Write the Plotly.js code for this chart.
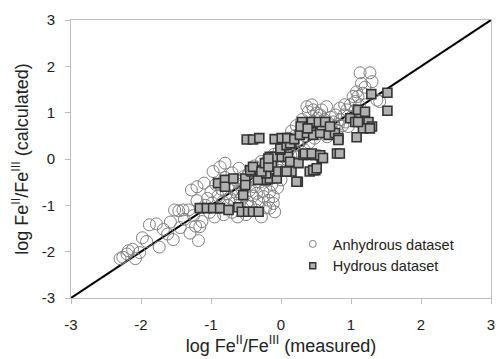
<!DOCTYPE html>
<html>
<head>
<meta charset="utf-8">
<script src="https://cdn.plot.ly/plotly-3.0.1.min.js"></script>
<style>html,body{margin:0;padding:0;background:#fff;}#chart{width:499px;height:359px;}</style>
</head>
<body>
<div id="chart"></div>
<script>
// Anhydrous dataset (open circles)
var anhydrousX = [
-2.30,-2.26,-2.20,-2.18,-2.12,-2.08,-2.02,-1.98,-1.92,-1.88,-1.78,-1.74,-1.68,-1.62,-1.58,-1.54,-1.52,-1.46,-1.44,-1.38,-1.32,-1.30,-1.25,-1.22,-1.20,-1.18,-1.16,-1.13,-1.40,-1.28,-1.20,-1.10,
-1.08,-1.05,-1.02,-1.00,-0.98,-0.97,-0.95,-0.93,-0.90,-0.88,-0.87,-0.85,-0.83,-0.82,-0.80,-0.80,-0.78,-0.76,-0.74,-0.72,-0.70,-0.70,-0.68,-0.66,-0.65,-0.63,-0.62,-0.60,-0.60,-0.58,-0.56,-0.55,-0.53,-0.52,-0.50,-0.50,-0.48,-0.46,-0.45,-0.43,-0.42,-0.40,-0.38,-0.38,-0.36,-0.35,-0.33,-0.32,-0.30,-0.28,-0.28,-0.26,-0.25,-0.24,-0.22,-0.20,-0.18,-0.18,-0.16,-0.16,-0.15,-0.13,-0.11,-0.11,-0.10,-0.09,-0.08,-0.06,-0.05,-0.03,-0.02,0.00,
0.02,0.04,0.05,0.07,0.09,0.10,0.12,0.14,0.15,0.17,0.19,0.20,0.22,0.24,0.25,0.27,0.29,0.30,0.31,0.33,0.35,0.37,0.38,0.39,0.40,0.42,0.44,0.45,0.46,0.48,0.50,0.51,0.52,0.54,0.56,0.57,0.58,0.60,0.62,0.64,0.65,0.66,0.68,0.70,0.71,0.73,0.75,0.76,0.78,0.80,0.82,0.84,0.85,0.88,0.90,0.91,0.92,0.94,0.96,0.99,1.00,
1.03,1.06,1.08,1.10,1.13,1.15,1.17,1.27,1.30,1.37,1.41,1.20,1.06,1.12
];
var anhydrousY = [
-2.15,-2.12,-2.05,-1.98,-1.95,-2.15,-2.02,-1.70,-1.78,-1.42,-1.40,-1.90,-1.52,-1.62,-1.36,-1.74,-1.10,-1.12,-1.48,-1.30,-1.10,-1.60,-1.22,-1.45,-0.90,-1.76,-1.46,-1.35,-1.10,-0.67,-0.60,-0.52,
-1.00,-0.85,-1.15,-0.70,-0.95,-0.27,-1.25,-0.55,-0.80,-1.05,-0.17,-0.65,-0.92,-1.20,-0.09,-0.40,-0.75,-1.00,-0.55,-0.85,-0.30,-1.15,-0.65,-0.95,-0.45,-0.75,-1.25,-0.20,-0.55,-0.88,-0.65,-1.05,-0.38,-0.78,-0.55,-1.20,-0.92,-0.30,-0.68,-1.02,-0.45,-0.80,-0.15,-0.60,-1.10,-0.74,-0.35,-0.92,-0.50,-0.05,-1.25,-0.70,-0.81,-0.28,-1.05,-0.45,-0.89,0.00,-0.71,-1.06,-0.20,-0.55,-0.96,-0.81,0.10,-1.14,-0.35,-0.06,-0.62,0.15,-0.25,-0.45,
0.05,-0.12,0.30,0.18,-0.02,0.45,0.25,0.08,0.60,0.35,0.15,0.50,0.72,0.30,0.05,0.55,0.40,0.85,0.67,0.20,0.50,1.13,0.70,1.02,0.35,0.60,1.17,0.80,1.06,0.45,0.68,0.99,0.88,0.55,0.95,0.75,1.06,0.62,0.85,0.70,1.13,0.48,0.78,0.65,0.90,0.58,0.80,0.70,0.95,0.62,0.75,1.10,0.85,0.72,0.95,1.17,0.80,1.06,0.70,1.17,0.90,
1.35,1.24,1.45,1.35,1.86,1.63,1.42,1.86,1.67,1.27,1.24,1.55,1.05,1.15
];
// Hydrous dataset (grey squares)
var hydrousX = [
-1.16,-1.06,-0.97,-0.87,-0.75,-0.61,-0.56,-0.47,-0.40,-0.32,
-0.54,-0.90,-0.80,-0.80,-0.68,-0.51,-0.51,-0.30,-0.21,-0.33,-0.16,-0.06,-0.21,
-0.42,-0.44,-0.30,-0.40,-0.28,-0.23,-0.13,-0.18,
-0.04,0.06,0.15,0.08,
-0.16,-0.09,0.01,0.10,0.13,0.25,-0.18,-0.01,-0.01,0.08,0.15,0.13,
0.24,0.22,0.41,0.49,0.46,0.51,
0.32,0.41,0.49,0.58,0.80,0.84,0.34,0.44,0.56,0.60,
-0.49,-0.40,-0.31,-0.09,0.01,0.09,0.19,
0.27,0.37,0.46,0.56,0.68,0.77,0.82,0.82,
0.41,0.49,0.58,0.30,0.44,0.54,0.63,0.70,0.28,0.38,
0.99,1.06,1.10,1.20,1.15,1.25,1.30,1.17,1.27,1.08,1.29,1.52,1.52,1.10
];
var hydrousY = [
-1.06,-1.06,-1.06,-1.06,-1.10,-1.04,-1.14,-1.14,-1.14,-1.14,
-0.78,-0.52,-0.45,-0.60,-0.42,-0.42,-0.56,-0.42,-0.45,-0.45,-0.42,-0.42,-0.31,
-0.27,-0.24,-0.24,-0.17,-0.27,-0.09,-0.13,-0.17,
-0.27,-0.27,-0.27,-0.27,
0.05,0.05,0.05,0.05,-0.06,-0.09,0.01,0.20,0.23,0.30,0.34,0.34,
-0.49,-0.49,-0.27,-0.24,-0.24,-0.20,
0.09,0.09,0.09,0.02,0.12,0.12,0.12,0.12,0.08,0.02,
0.42,0.42,0.45,0.43,0.45,0.45,0.43,
0.52,0.56,0.52,0.56,0.52,0.56,0.45,0.41,
0.77,0.77,0.73,0.80,0.80,0.80,0.80,0.70,0.70,0.66,
0.88,0.80,1.06,1.02,0.80,0.80,0.70,0.66,0.66,0.47,1.40,1.43,1.04,0.80
];
var oneToOne = [-3, 3];
var tickVals = [-3,-2,-1,0,1,2,3];
var tickLabels = ['-3','-2','-1','0','1','2','3'];
var seriesNames = ['Anhydrous dataset', 'Hydrous dataset'];

var circleStyle = {symbol: 'circle-open', color: '#808080', line: {width: 1, color: '#808080'}};
var squareStyle = {symbol: 'square', color: '#b0b0b0', line: {width: 1.6, color: '#333'}};

var traces = [
  {x: oneToOne, y: oneToOne, mode: 'lines', line: {color: '#000', width: 2}, showlegend: false, hoverinfo: 'skip'},
  {x: anhydrousX, y: anhydrousY, mode: 'markers', name: seriesNames[0], showlegend: false,
   marker: Object.assign({size: 12}, circleStyle)},
  {x: hydrousX, y: hydrousY, mode: 'markers', name: seriesNames[1], showlegend: false,
   marker: Object.assign({size: 9}, squareStyle)},
  // legend-only entries with the small legend symbols of the reference
  {x: [null], y: [null], mode: 'markers', name: seriesNames[0],
   marker: Object.assign({size: 7}, circleStyle)},
  {x: [null], y: [null], mode: 'markers', name: seriesNames[1],
   marker: {symbol: 'square', size: 6, color: '#b0b0b0', line: {width: 1.4, color: '#333'}}}
];

var axisCommon = {
  range: [-3, 3], tickmode: 'array', tickvals: tickVals, ticktext: tickLabels,
  showgrid: false, zeroline: false, showline: true, linecolor: '#bdbdbd', linewidth: 1,
  mirror: true, ticks: 'outside', ticklen: 5, tickcolor: '#bdbdbd',
  tickfont: {family: 'Liberation Sans, Arial, sans-serif', size: 15, color: '#222'}
};

var layout = {
  width: 499, height: 359,
  margin: {l: 71, r: 8, t: 20, b: 61},
  paper_bgcolor: '#fff', plot_bgcolor: '#fff',
  font: {family: 'Liberation Sans, Arial, sans-serif', color: '#222'},
  xaxis: Object.assign({}, axisCommon, {
    ticklabelstandoff: 8,
    title: {text: 'log Fe<sup>II</sup>/Fe<sup>III</sup> (measured)', font: {size: 18, color: '#222'}, standoff: 3}
  }),
  yaxis: Object.assign({}, axisCommon, {
    ticklabelstandoff: 7,
    title: {text: 'log Fe<sup>II</sup>/Fe<sup>III</sup> (calculated)', font: {size: 18, color: '#222'}, standoff: 8}
  }),
  legend: {x: 0.528, y: 0.252, xanchor: 'left', yanchor: 'top', bgcolor: 'rgba(0,0,0,0)',
    font: {size: 14.5, color: '#222'}, itemwidth: 30, tracegroupgap: 0},
  showlegend: true
};

Plotly.newPlot('chart', traces, layout, {displayModeBar: false, staticPlot: true});
</script>
</body>
</html>
